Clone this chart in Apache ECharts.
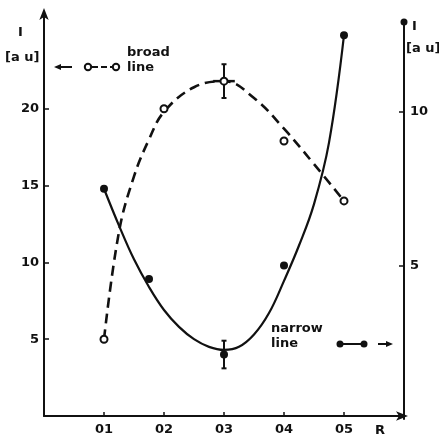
<!DOCTYPE html>
<html>
<head>
<meta charset="utf-8">
<script src="https://cdn.jsdelivr.net/npm/echarts@6/dist/echarts.min.js"></script>
<style>
  html, body { margin: 0; padding: 0; background: #fff; }
  #chart { width: 439px; height: 436px; }
</style>
</head>
<body>
<div id="chart"></div>
<script>
// Axis ticks and labels
const rTicks = [0.1, 0.2, 0.3, 0.4, 0.5];
const rTickLabels = ['01', '02', '03', '04', '05'];
const leftTicks = [5, 10, 15, 20];
const rightTicks = [5, 10];

// Broad line intensity (left axis), measured points
const broadR = [0.1, 0.2, 0.3, 0.4, 0.5];
const broadI = [5, 20, 21.8, 17.9, 14];
const broadErrI = [0, 0, 1.1, 0, 0];
const broadErrR = [0, 0, 0.018, 0, 0];

// Broad line guide curve
const broadCurveR = [0.1, 0.125, 0.15, 0.175, 0.2, 0.25, 0.3, 0.35, 0.4, 0.45, 0.5];
const broadCurveI = [5, 12.0, 15.6, 18.0, 19.8, 21.4, 21.8, 20.7, 18.7, 16.4, 14];

// Narrow line intensity (right axis), measured points
const narrowR = [0.1, 0.175, 0.3, 0.4, 0.5];
const narrowI = [7.5, 4.56, 2.1, 5.0, 12.5];
const narrowErrI = [0, 0, 0.45, 0, 0];

// Narrow line guide curve
const narrowCurveR = [0.1, 0.125, 0.15, 0.175, 0.2, 0.225, 0.25, 0.275, 0.3, 0.325, 0.35, 0.375, 0.4, 0.425, 0.45, 0.475, 0.5];
const narrowCurveI = [7.5, 6.3, 5.2, 4.3, 3.55, 3.0, 2.6, 2.35, 2.25, 2.35, 2.75, 3.45, 4.5, 5.65, 7.0, 9.0, 12.5];

const zip = (a, b) => a.map((v, i) => [v, b[i]]);
const INK = '#111';
const FONT = 'DejaVu Sans';

function errorBars(params, api) {
  const x = api.value(0), y = api.value(1), ey = api.value(2), ex = api.value(3);
  const children = [];
  const style = { stroke: INK, lineWidth: 2 };
  if (ey > 0) {
    const t = api.coord([x, y + ey]), b = api.coord([x, y - ey]);
    children.push({ type: 'line', shape: { x1: t[0], y1: t[1], x2: b[0], y2: b[1] }, style });
    children.push({ type: 'line', shape: { x1: t[0] - 2.5, y1: t[1], x2: t[0] + 2.5, y2: t[1] }, style });
    children.push({ type: 'line', shape: { x1: b[0] - 2.5, y1: b[1], x2: b[0] + 2.5, y2: b[1] }, style });
  }
  if (ex > 0) {
    const l = api.coord([x - ex, y]), r = api.coord([x + ex, y]);
    children.push({ type: 'line', shape: { x1: l[0], y1: l[1], x2: r[0], y2: r[1] }, style: { stroke: INK, lineWidth: 2.5 } });
  }
  return { type: 'group', children };
}

const chart = echarts.init(document.getElementById('chart'), null, { renderer: 'canvas' });

const labelStyle = { color: INK, fontFamily: FONT, fontSize: 13, fontWeight: 'bold' };

chart.setOption({
  animation: false,
  backgroundColor: '#fff',
  grid: [
    { left: 44, right: 35, top: 12, bottom: 17 },
    { left: 44, right: 35, top: 22, bottom: 17 }
  ],
  xAxis: [
    {
      gridIndex: 0, type: 'value', min: 0, max: 0.6, interval: 0.1,
      splitLine: { show: false },
      axisLine: { lineStyle: { color: INK, width: 2 }, symbol: ['none', 'arrow'], symbolSize: [7, 12], symbolOffset: [0, 4] },
      axisTick: { inside: true, length: 4, customValues: rTicks, lineStyle: { color: INK, width: 1.5 } },
      axisLabel: {
        customValues: rTicks, margin: 7, ...labelStyle,
        formatter: v => rTickLabels[rTicks.findIndex(t => Math.abs(t - v) < 1e-6)] || ''
      }
    },
    {
      gridIndex: 1, type: 'value', min: 0, max: 0.6, show: false
    }
  ],
  yAxis: [
    {
      gridIndex: 0, type: 'value', min: 0, max: 26.3, position: 'left',
      splitLine: { show: false },
      axisLine: { show: true, onZero: false, lineStyle: { color: INK, width: 2 }, symbol: ['none', 'arrow'], symbolSize: [7, 12], symbolOffset: [0, 4] },
      axisTick: { inside: true, length: 5, customValues: leftTicks, lineStyle: { color: INK, width: 1.5 } },
      axisLabel: { customValues: leftTicks, margin: 5, ...labelStyle }
    },
    {
      gridIndex: 1, type: 'value', min: 0, max: 12.93, position: 'right',
      splitLine: { show: false },
      axisLine: { show: true, onZero: false, lineStyle: { color: INK, width: 2 }, symbol: ['none', 'circle'], symbolSize: [7, 11] },
      axisTick: { inside: true, length: 5, customValues: rightTicks, lineStyle: { color: INK, width: 1.5 } },
      axisLabel: { customValues: rightTicks, margin: 6, ...labelStyle }
    }
  ],
  series: [
    {
      name: 'broad curve', type: 'line', xAxisIndex: 0, yAxisIndex: 0,
      data: zip(broadCurveR, broadCurveI), smooth: 0.4, showSymbol: false,
      lineStyle: { color: INK, width: 2.6, type: [10, 6] }, z: 2
    },
    {
      name: 'broad points', type: 'scatter', xAxisIndex: 0, yAxisIndex: 0,
      data: zip(broadR, broadI), symbol: 'circle', symbolSize: 7,
      itemStyle: { color: '#fff', borderColor: INK, borderWidth: 2, opacity: 1 }, z: 5
    },
    {
      name: 'broad errors', type: 'custom', xAxisIndex: 0, yAxisIndex: 0,
      data: broadR.map((r, i) => [r, broadI[i], broadErrI[i], broadErrR[i]]).filter(d => d[2] > 0 || d[3] > 0),
      renderItem: errorBars, z: 4
    },
    {
      name: 'narrow curve', type: 'line', xAxisIndex: 1, yAxisIndex: 1,
      data: zip(narrowCurveR, narrowCurveI), smooth: 0.4, showSymbol: false,
      lineStyle: { color: INK, width: 2.2 }, z: 2
    },
    {
      name: 'narrow points', type: 'scatter', xAxisIndex: 1, yAxisIndex: 1,
      data: zip(narrowR, narrowI), symbol: 'circle', symbolSize: 8,
      itemStyle: { color: INK, opacity: 1 }, z: 5
    },
    {
      name: 'narrow errors', type: 'custom', xAxisIndex: 1, yAxisIndex: 1,
      data: narrowR.map((r, i) => [r, narrowI[i], narrowErrI[i], 0]).filter(d => d[2] > 0),
      renderItem: errorBars, z: 4
    }
  ],
  graphic: [
    // axis titles
    { type: 'text', left: 18, top: 26, style: { text: 'I', ...labelStyle, fill: INK } },
    { type: 'text', left: 5, top: 51, style: { text: '[a u]', ...labelStyle, fill: INK } },
    { type: 'text', left: 412, top: 20, style: { text: 'I', ...labelStyle, fill: INK } },
    { type: 'text', left: 406, top: 42, style: { text: '[a u]', ...labelStyle, fill: INK } },
    { type: 'text', left: 375, top: 424, style: { text: 'R', ...labelStyle, fill: INK } },

    // broad line key
    { type: 'text', left: 127, top: 45, style: { text: 'broad\nline', ...labelStyle, fill: INK, lineHeight: 15 } },
    { type: 'line', shape: { x1: 59, y1: 67, x2: 72, y2: 67 }, style: { stroke: INK, lineWidth: 2 } },
    { type: 'polygon', shape: { points: [[54, 67], [61, 64], [61, 70]] }, style: { fill: INK } },
    { type: 'line', shape: { x1: 92, y1: 67, x2: 112, y2: 67 }, style: { stroke: INK, lineWidth: 2, lineDash: [6, 3] } },
    { type: 'circle', shape: { cx: 88, cy: 67, r: 3.2 }, style: { fill: '#fff', stroke: INK, lineWidth: 2 } },
    { type: 'circle', shape: { cx: 116, cy: 67, r: 3.2 }, style: { fill: '#fff', stroke: INK, lineWidth: 2 } },

    // narrow line key
    { type: 'text', left: 271, top: 321, style: { text: 'narrow\nline', ...labelStyle, fill: INK, lineHeight: 15 } },
    { type: 'line', shape: { x1: 340, y1: 344, x2: 364, y2: 344 }, style: { stroke: INK, lineWidth: 2 } },
    { type: 'circle', shape: { cx: 340, cy: 344, r: 3.5 }, style: { fill: INK } },
    { type: 'circle', shape: { cx: 364, cy: 344, r: 3.5 }, style: { fill: INK } },
    { type: 'line', shape: { x1: 378, y1: 344, x2: 388, y2: 344 }, style: { stroke: INK, lineWidth: 2 } },
    { type: 'polygon', shape: { points: [[393, 344], [386, 341], [386, 347]] }, style: { fill: INK } }
  ]
});
</script>
</body>
</html>
